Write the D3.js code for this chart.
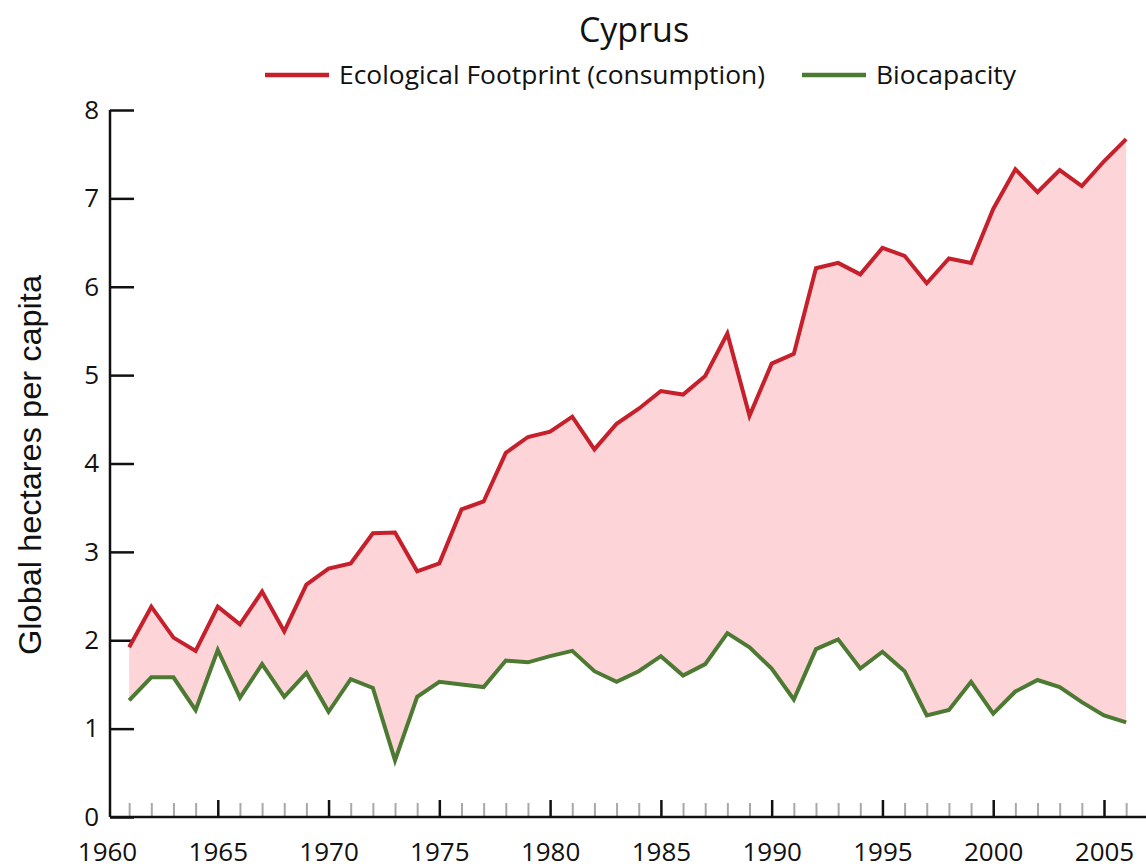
<!DOCTYPE html>
<html>
<head>
<meta charset="utf-8">
<script src="https://cdn.jsdelivr.net/npm/d3@7"></script>
<style>
  body { margin: 0; background: #fff; }
  svg { display: block; }
</style>
</head>
<body>
<script>
// values
let years = [1961,1962,1963,1964,1965,1966,1967,1968,1969,1970,
             1971,1972,1973,1974,1975,1976,1977,1978,1979,1980,
             1981,1982,1983,1984,1985,1986,1987,1988,1989,1990,
             1991,1992,1993,1994,1995,1996,1997,1998,1999,2000,
             2001,2002,2003,2004,2005,2006];

let footprint = [1.92,2.38,2.03,1.88,2.38,2.18,2.55,2.10,2.63,2.81,
                 2.87,3.21,3.22,2.78,2.87,3.48,3.57,4.12,4.30,4.36,
                 4.53,4.16,4.45,4.62,4.82,4.78,4.99,5.47,4.54,5.13,
                 5.24,6.21,6.27,6.14,6.44,6.35,6.04,6.32,6.27,6.88,
                 7.33,7.07,7.32,7.14,7.42,7.67];

let biocapacity = [1.32,1.58,1.58,1.21,1.89,1.35,1.73,1.36,1.63,1.19,
                   1.56,1.46,0.64,1.36,1.53,1.50,1.47,1.77,1.75,1.82,
                   1.88,1.65,1.53,1.65,1.82,1.60,1.73,2.08,1.92,1.68,
                   1.33,1.90,2.01,1.68,1.87,1.65,1.15,1.21,1.53,1.17,
                   1.42,1.55,1.47,1.30,1.15,1.07];

let yTicks = [0,1,2,3,4,5,6,7,8];
let xLabels = [1960,1965,1970,1975,1980,1985,1990,1995,2000,2005];
let xMajor = [1965,1970,1975,1980,1985,1990,1995,2000,2005];

let data = years.map(function(d, i) {
    return {year: d, fp: footprint[i], bc: biocapacity[i]};
});

let width = 1146, height = 868;
let axisX = 110;      // y axis position
let baseY = 817;      // x axis position

let svg = d3.select("body").append("svg")
    .attr("width", width)
    .attr("height", height);

// scales
let x = d3.scaleLinear().domain([1960, 2005]).range([107, 1104]);
let y = d3.scaleLinear().domain([0, 8]).range([baseY, 110]);

// area between the two series
let area = d3.area()
    .x(function(d) { return x(d.year); })
    .y0(function(d) { return y(d.bc); })
    .y1(function(d) { return y(d.fp); });

svg.append("path")
    .datum(data)
    .attr("fill", "#fdd4d7")
    .attr("d", area);

// x axis ticks (minor gray, major black)
let minorYears = years.filter(function(d) { return d % 5 !== 0; });

svg.append("g")
    .attr("transform", "translate(0," + baseY + ")")
    .call(d3.axisTop(x).tickValues(minorYears).tickSize(14).tickFormat(""))
    .call(function(g) { g.select(".domain").remove(); })
    .selectAll("line")
    .attr("stroke", "#a8a8a8")
    .attr("stroke-width", 2);

svg.append("g")
    .attr("transform", "translate(0," + baseY + ")")
    .call(d3.axisTop(x).tickValues(xMajor).tickSize(17).tickFormat(""))
    .call(function(g) { g.select(".domain").remove(); })
    .selectAll("line")
    .attr("stroke", "#111")
    .attr("stroke-width", 2.5);

// x labels
let xLab = svg.append("g")
    .attr("transform", "translate(0," + baseY + ")")
    .call(d3.axisBottom(x).tickValues(xLabels).tickSize(0).tickPadding(26).tickFormat(d3.format("d")));
xLab.select(".domain").remove();
xLab.selectAll("text")
    .attr("font-family", "'Open Sans', sans-serif")
    .attr("font-size", 26)
    .attr("fill", "#111");

// y axis
let yAx = svg.append("g")
    .attr("transform", "translate(" + axisX + ",0)")
    .call(d3.axisLeft(y).tickValues(yTicks).tickSize(-24).tickPadding(11));
yAx.select(".domain").remove();
yAx.selectAll("line")
    .attr("stroke", "#111")
    .attr("stroke-width", 2.5);
yAx.selectAll("text")
    .attr("font-family", "'Open Sans', sans-serif")
    .attr("font-size", 26)
    .attr("fill", "#111");

// axis lines
svg.append("line")
    .attr("x1", axisX).attr("x2", axisX)
    .attr("y1", y(8)).attr("y2", baseY)
    .attr("stroke", "#111").attr("stroke-width", 2.5);

svg.append("line")
    .attr("x1", axisX).attr("x2", width)
    .attr("y1", baseY).attr("y2", baseY)
    .attr("stroke", "#111").attr("stroke-width", 2.5);

// lines
let fpLine = d3.line()
    .x(function(d) { return x(d.year); })
    .y(function(d) { return y(d.fp); });

let bcLine = d3.line()
    .x(function(d) { return x(d.year); })
    .y(function(d) { return y(d.bc); });

svg.append("path")
    .datum(data)
    .attr("fill", "none")
    .attr("stroke", "#4d7a33")
    .attr("stroke-width", 4)
    .attr("d", bcLine);

svg.append("path")
    .datum(data)
    .attr("fill", "none")
    .attr("stroke", "#c5202b")
    .attr("stroke-width", 4)
    .attr("d", fpLine);

// y axis title
svg.append("text")
    .attr("transform", "translate(41,465) rotate(-90)")
    .attr("text-anchor", "middle")
    .attr("font-family", "'Liberation Sans', Arial, sans-serif")
    .attr("font-size", 32)
    .attr("textLength", 380)
    .attr("lengthAdjust", "spacingAndGlyphs")
    .attr("fill", "#111")
    .text("Global hectares per capita");

// title
svg.append("text")
    .attr("x", 634)
    .attr("y", 42)
    .attr("text-anchor", "middle")
    .attr("font-family", "'Open Sans', sans-serif")
    .attr("font-size", 34)
    .attr("fill", "#111")
    .text("Cyprus");

// legend
let legend = [
    {label: "Ecological Footprint (consumption)", color: "#c5202b", x: 265, w: 426},
    {label: "Biocapacity", color: "#4d7a33", x: 802, w: 140}
];

legend.forEach(function(l) {
    svg.append("line")
        .attr("x1", l.x).attr("x2", l.x + 64)
        .attr("y1", 75).attr("y2", 75)
        .attr("stroke", l.color)
        .attr("stroke-width", 4.5);
    svg.append("text")
        .attr("x", l.x + 74)
        .attr("y", 84)
        .attr("font-family", "'Open Sans', sans-serif")
        .attr("font-size", 25)
        .attr("textLength", l.w)
        .attr("lengthAdjust", "spacingAndGlyphs")
        .attr("fill", "#111")
        .text(l.label);
});
</script>
</body>
</html>
